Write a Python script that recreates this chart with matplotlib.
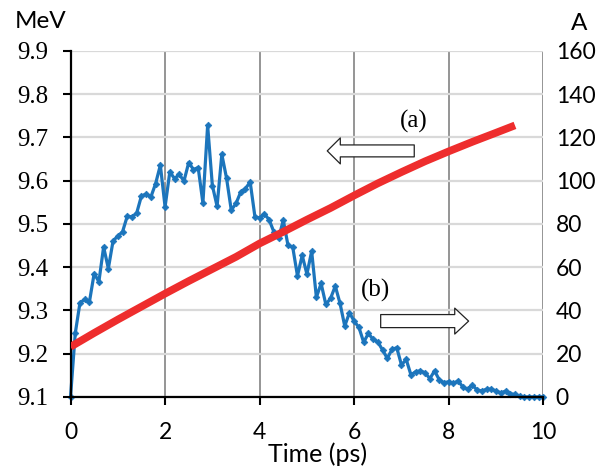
import numpy as np
import matplotlib
matplotlib.use("Agg")
import matplotlib.pyplot as plt
from matplotlib.patches import FancyArrowPatch, ArrowStyle

# ---------- data ----------
# blue series (right axis, A), one sample every 0.1 ps
t_blue = np.linspace(0, 10, 101)
current_a = [
    0, 29.4, 43.6, 45.1, 44.0, 57.1, 53.3, 69.4, 59.4, 72.2,
    74.4, 76.4, 83.6, 83.3, 85.1, 93.0, 93.8, 92.5, 98.7, 107.2,
    87.9, 104.1, 101.0, 102.9, 99.9, 108.4, 105.2, 106.1, 89.7, 125.6,
    97.8, 88.2, 112.2, 101.2, 86.4, 89.5, 94.8, 96.4, 99.4, 83.4,
    82.8, 84.7, 82.0, 76.4, 73.3, 81.8, 70.1, 69.3, 56.0, 65.5,
    56.8, 67.4, 46.1, 52.5, 42.8, 45.6, 51.3, 43.3, 32.8, 39.0,
    35.0, 32.2, 25.3, 29.4, 26.6, 25.5, 21.7, 17.9, 22.0, 22.8,
    14.8, 17.4, 10.2, 11.7, 12.1, 11.2, 8.5, 12.1, 7.9, 6.6,
    7.1, 6.3, 7.5, 4.5, 3.6, 5.5, 3.2, 2.8, 3.6, 3.6,
    2.8, 1.9, 2.7, 1.5, 1.2, 0.3, 0, 0, 0, 0,
    0,
]

# red series (left axis, MeV)
t_red = [0, 0.5, 1.0, 1.5, 2.0, 2.5, 3.0, 3.5, 4.0, 4.5,
         5.0, 5.5, 6.0, 6.5, 7.0, 7.5, 8.0, 8.5, 9.0, 9.4]
energy_mev = [9.216, 9.248, 9.279, 9.309, 9.339, 9.368, 9.396, 9.424, 9.455, 9.482,
              9.510, 9.537, 9.566, 9.594, 9.620, 9.645, 9.668, 9.690, 9.711, 9.728]

x_ticks = [0, 2, 4, 6, 8, 10]
mev_ticks = [9.1, 9.2, 9.3, 9.4, 9.5, 9.6, 9.7, 9.8, 9.9]
a_ticks = [0, 20, 40, 60, 80, 100, 120, 140, 160]

SANS = "Lato"
SERIF = "Liberation Serif"
plt.rcParams["font.family"] = SERIF

# ---------- figure ----------
fig = plt.figure(figsize=(6.1, 4.67), dpi=100)
ax = fig.add_axes([0.1156, 0.1499, 0.7751, 0.7409])
ax2 = ax.twinx()
ax.set_zorder(ax2.get_zorder() + 1)
ax.patch.set_visible(False)

ax.set_xlim(0, 10)
ax.set_ylim(9.1, 9.9)
ax2.set_ylim(0, 160)

# grid lives on the lower axes so the blue line sits above it
ax2.xaxis.set_visible(True)
ax2.set_xticks(x_ticks[1:])
ax2.set_yticks(a_ticks)
ax2.set_yticklabels([str(v) for v in a_ticks], fontfamily=SANS, fontsize=16.5,
                    ha="left")
ax2.xaxis.grid(True, color="#8c8c8c", lw=1.3)
ax2.yaxis.grid(True, color="#d9d9d9", lw=1.6)
ax2.tick_params(axis="x", length=0, labelbottom=False)
ax2.tick_params(axis="y", length=0, pad=9)
for s in ax2.spines.values():
    s.set_visible(False)

ax2.plot(t_blue, current_a, color="#1c75bc", lw=2.3, marker="D", ms=3.4,
         markeredgewidth=0.5, zorder=3, clip_on=False)

ax.plot(t_red, energy_mev, color="#ee2d2d", lw=5.5, solid_capstyle="butt", zorder=4)

ax.set_xticks(x_ticks)
ax.set_xticklabels([str(v) for v in x_ticks], fontfamily=SANS, fontsize=16.5)
ax.set_yticks(mev_ticks)
ax.set_yticklabels([f"{v:.1f}" for v in mev_ticks], fontfamily=SERIF, fontsize=18)
ax.tick_params(axis="both", direction="out", length=6, width=1.5, color="black")
ax.tick_params(axis="y", pad=10)
ax.tick_params(axis="x", pad=12)
for side in ["top", "right"]:
    ax.spines[side].set_visible(False)
for side in ["left", "bottom"]:
    ax.spines[side].set_linewidth(1.6)
    ax.spines[side].set_color("black")

# ---------- annotations ----------
ax.text(7.27, 9.736, "(a)", fontfamily=SERIF, fontsize=18, ha="center", va="center")
ax.text(6.44, 9.347, "(b)", fontfamily=SERIF, fontsize=18, ha="center", va="center")

arr_a = FancyArrowPatch((7.27, 9.669), (5.43, 9.669),
                        arrowstyle=ArrowStyle.Simple(head_length=9.4, head_width=18.7, tail_width=8.6),
                        mutation_scale=1, fc="white", ec="#222222", lw=0.9,
                        shrinkA=0, shrinkB=0, zorder=5)
arr_b = FancyArrowPatch((6.56, 9.2755), (8.42, 9.2755),
                        arrowstyle=ArrowStyle.Simple(head_length=10, head_width=18.7, tail_width=9.4),
                        mutation_scale=1, fc="white", ec="#222222", lw=0.9,
                        shrinkA=0, shrinkB=0, zorder=5)
ax.add_patch(arr_a)
ax.add_patch(arr_b)

fig.text(15 / 610, 1 - 22 / 467, "MeV", fontfamily=SANS, fontsize=17.5, ha="left", va="center")
fig.text(579 / 610, 1 - 23 / 467, "A", fontfamily=SANS, fontsize=17.5, ha="center", va="center")
fig.text(318 / 610, 1 - 454 / 467, "Time (ps)", fontfamily=SANS, fontsize=18, ha="center", va="center")

fig.savefig("out.png", dpi=100)
